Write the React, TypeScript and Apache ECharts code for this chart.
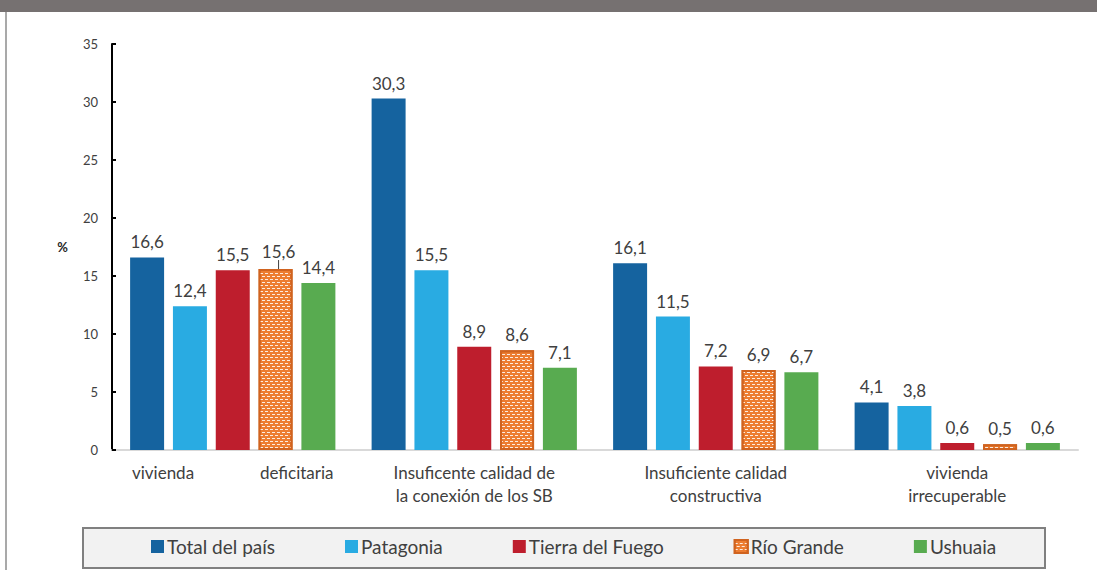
import React, { useEffect, useRef } from "react";
import * as echarts from "echarts";

const categories = [
  "vivienda deficitaria",
  "Insuficente calidad de\nla conexión de los SB",
  "Insuficiente calidad\nconstructiva",
  "vivienda\nirrecuperable",
];
const seriesNames = ["Total del país", "Patagonia", "Tierra del Fuego", "Río Grande", "Ushuaia"];
const totalPais = [16.6, 30.3, 16.1, 4.1];
const patagonia = [12.4, 15.5, 11.5, 3.8];
const tierraFuego = [15.5, 8.9, 7.2, 0.6];
const rioGrande = [15.6, 8.6, 6.9, 0.5];
const ushuaia = [14.4, 7.1, 6.7, 0.6];
const yTicks = { min: 0, max: 35, interval: 5 };

const colors = ["#15639F", "#29ABE2", "#BE1E2D", "#ED7D31", "#58AB50"];
const FONT = "Lato, 'Open Sans', sans-serif";

export default function App() {
  const ref = useRef<HTMLDivElement>(null);
  useEffect(() => {
    if (!ref.current) return;
    const chart = echarts.init(ref.current, null, { renderer: "svg" });
    const values = [totalPais, patagonia, tierraFuego, rioGrande, ushuaia];
    const labelCommon = {
      show: true,
      position: "top",
      distance: 7,
      fontFamily: FONT,
      fontSize: 17,
      color: "#404040",
      formatter: (p: any) => String(p.value).replace(".", ","),
    };
    const series = values.map((arr, i) => {
      const s: any = {
        name: seriesNames[i],
        type: "bar",
        data: arr.map((v, j) =>
          i === 3 && j === 0
            ? { value: v, labelLine: { show: true, lineStyle: { color: "#404040", width: 1 } } }
            : v
        ),
        barGap: "26%",
        barCategoryGap: "15%",
        itemStyle: { color: colors[i] },
        label: labelCommon,
      };
      if (i === 3) {
        s.itemStyle = {
          color: "#ED7D31",
          borderColor: "#D0631F",
          borderWidth: 2,
          decal: {
            symbol: "rect",
            symbolSize: 1,
            color: "rgba(255,255,255,0.85)",
            dashArrayX: [[3, 2], [0, 2, 3, 0]],
            dashArrayY: [1, 2],
            rotation: 0,
          },
        };
        s.labelLayout = (p: any) => (p.dataIndex === 0 ? { dx: 3, dy: -2 } : {});
      }
      return s;
    });
    chart.setOption({
      animation: false,
      backgroundColor: "#ffffff",
      textStyle: { fontFamily: FONT },
      graphic: [
        { type: "rect", shape: { x: 0, y: 0, width: 1097, height: 12 }, style: { fill: "#767171" }, z: 10 },
        { type: "line", shape: { x1: 6, y1: 12, x2: 6, y2: 570 }, style: { stroke: "#8C8C8C", lineWidth: 1.5 }, z: 10 },
        {
          type: "rect",
          shape: { x: 83, y: 528, width: 962, height: 40 },
          style: { fill: "#F2F2F2", stroke: "#808080", lineWidth: 2 },
          z: -1,
        },
      ],
      legend: {
        data: seriesNames,
        left: 151,
        top: 537,
        itemWidth: 13,
        itemHeight: 13,
        itemGap: 70,
        padding: 0,
        icon: "rect",
        textStyle: { fontFamily: FONT, fontSize: 19, color: "#404040", padding: [0, 0, 0, -2] },
      },
      grid: { left: 112, right: 19, top: 44, bottom: 120, containLabel: false },
      xAxis: {
        type: "category",
        data: categories,
        axisLine: { show: true, lineStyle: { color: "#D9D9D9", width: 2 } },
        axisTick: { show: false },
        axisLabel: {
          interval: 0,
          margin: 11,
          fontFamily: FONT,
          fontSize: 17,
          color: "#404040",
          lineHeight: 23,
          formatter: (v: string, idx: number) =>
            idx === 0 ? "{a|vivienda}{b|deficitaria}" : v,
          rich: {
            a: { width: 128, align: "left", fontFamily: FONT, fontSize: 17, color: "#404040" },
            b: { fontFamily: FONT, fontSize: 17, color: "#404040" },
          },
        },
      },
      yAxis: {
        type: "value",
        min: yTicks.min,
        max: yTicks.max,
        interval: yTicks.interval,
        name: "%",
        nameLocation: "middle",
        nameRotate: 0,
        nameGap: 44,
        nameTextStyle: { fontFamily: FONT, fontSize: 13, fontWeight: "bold", color: "#262626" },
        axisLine: { show: true, lineStyle: { color: "#000000", width: 2 } },
        axisTick: { show: true, inside: true, length: 4, lineStyle: { color: "#000000", width: 2 } },
        splitLine: { show: false },
        axisLabel: { fontFamily: FONT, fontSize: 13, color: "#404040", margin: 14 },
      },
      series,
    });
    return () => chart.dispose();
  }, []);
  return (
    <div
      ref={ref}
      style={{ position: "fixed", left: 0, top: 0, width: 1097, height: 570, background: "#fff" }}
    />
  );
}
